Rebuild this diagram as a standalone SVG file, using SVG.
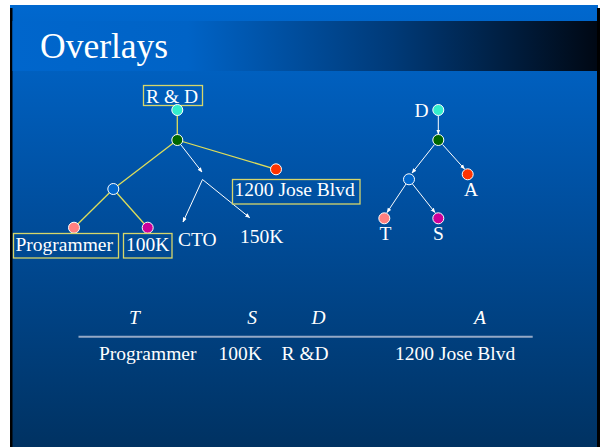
<svg xmlns="http://www.w3.org/2000/svg" width="602" height="447" viewBox="0 0 602 447">
  <defs>
    <linearGradient id="bg" x1="0" y1="0" x2="0" y2="1">
      <stop offset="0" stop-color="#0068cf"/>
      <stop offset="0.45" stop-color="#004f9f"/>
      <stop offset="1" stop-color="#003262"/>
    </linearGradient>
    <linearGradient id="band" x1="0" y1="0" x2="1" y2="0">
      <stop offset="0" stop-color="#0066cc"/>
      <stop offset="0.3" stop-color="#0063c6"/>
      <stop offset="0.65" stop-color="#003a78"/>
      <stop offset="1" stop-color="#000814"/>
    </linearGradient>
    <marker id="arr" viewBox="0 0 10 10" refX="9" refY="5" markerWidth="5" markerHeight="5" orient="auto" markerUnits="userSpaceOnUse">
      <path d="M0,1 L10,5 L0,9 Z" fill="#ffffff"/>
    </marker>
  </defs>
  <style>
    text { font-family: "Liberation Serif", "Times New Roman", serif; fill: #ffffff; font-size: 19.5px; }
    .title { font-size: 35.5px; }
    .hdr { font-style: italic; text-anchor: middle; }
    .tree { stroke: #dede5a; stroke-width: 1.3; fill: none; }
    .arrow { stroke: #ffffff; stroke-width: 1; fill: none; marker-end: url(#arr); }
    .box { stroke: #d6d66a; stroke-width: 1.3; fill: none; }
    .dot { stroke: #ffffff; stroke-width: 1; }
    .cyan { fill: #33eecc; }
    .green { fill: #006600; }
    .open { fill: #0066cc; }
    .red { fill: #ff3300; }
    .pink { fill: #ff8080; }
    .mag { fill: #cc0099; }
  </style>

  <!-- slide background -->
  <rect x="0" y="0" width="602" height="447" fill="#ffffff"/>
  <rect x="10" y="5" width="588" height="442" fill="url(#bg)"/>
  <rect x="10" y="8" width="2.5" height="439" fill="#000000"/>
  <rect x="597" y="8" width="3" height="439" fill="#000000"/>
  <rect x="12.5" y="21" width="584.5" height="50" fill="url(#band)"/>
  <text class="title" x="40" y="58">Overlays</text>

  <!-- connectors -->
  <g id="connectors">
    <line class="tree" x1="177.3" y1="110" x2="177.3" y2="140"/>
    <line class="tree" x1="177.3" y1="140" x2="113.3" y2="189"/>
    <line class="tree" x1="177.3" y1="140" x2="276" y2="169.3"/>
    <line class="tree" x1="113.3" y1="189" x2="74" y2="227.7"/>
    <line class="tree" x1="113.3" y1="189" x2="147.7" y2="227.7"/>
    <line class="arrow" x1="181" y1="145" x2="202" y2="172"/>
    <line class="arrow" x1="202.5" y1="179.5" x2="183" y2="222"/>
    <line class="arrow" x1="202.5" y1="179.5" x2="249.7" y2="217.7"/>

    <line class="arrow" x1="438.3" y1="116" x2="438.3" y2="134"/>
    <line class="arrow" x1="434.5" y1="144.5" x2="412" y2="173"/>
    <line class="arrow" x1="442.5" y1="144.5" x2="464.5" y2="169"/>
    <line class="arrow" x1="406" y1="184" x2="387" y2="212.5"/>
    <line class="arrow" x1="412.5" y1="184" x2="435" y2="212.5"/>
  </g>

  <!-- left tree -->
  <g id="rd-label">
    <rect class="box" x="143.5" y="85.5" width="59" height="20"/>
    <text x="146" y="102.5">R &amp; D</text>
  </g>
  <g id="l-root"><circle class="dot cyan" cx="177.3" cy="110" r="5.5"/></g>
  <g id="l-mid"><circle class="dot green" cx="177.3" cy="140" r="5.5"/></g>
  <g id="l-inner"><circle class="dot open" cx="113.3" cy="189" r="5.5"/></g>
  <g id="l-addr"><circle class="dot red" cx="276" cy="169.3" r="5.5"/></g>
  <g id="l-title"><circle class="dot pink" cx="74" cy="227.7" r="5.5"/></g>
  <g id="l-salary"><circle class="dot mag" cx="147.7" cy="227.7" r="5.5"/></g>
  <g id="addr-label">
    <rect class="box" x="232.5" y="179.5" width="127.5" height="24.5"/>
    <text x="234.5" y="196">1200 Jose Blvd</text>
  </g>
  <g id="prog-label">
    <rect class="box" x="13.5" y="233.5" width="105" height="24.5"/>
    <text x="15.5" y="250.5">Programmer</text>
  </g>
  <g id="salary-label">
    <rect class="box" x="123.5" y="233.5" width="48.5" height="24.5"/>
    <text x="126" y="250.5">100K</text>
  </g>
  <g id="cto"><text x="178" y="246">CTO</text></g>
  <g id="k150"><text x="240" y="243">150K</text></g>

  <!-- right tree -->
  <g id="r-d">
    <circle class="dot cyan" cx="438.3" cy="110" r="5.5"/>
    <text x="414.5" y="117">D</text>
  </g>
  <g id="r-mid"><circle class="dot green" cx="438.3" cy="140" r="5.5"/></g>
  <g id="r-inner"><circle class="dot open" cx="409" cy="179.3" r="5.5"/></g>
  <g id="r-a">
    <circle class="dot red" cx="467.7" cy="174.3" r="5.5"/>
    <text x="471" y="196" text-anchor="middle">A</text>
  </g>
  <g id="r-t">
    <circle class="dot pink" cx="384.3" cy="218.3" r="5.5"/>
    <text x="385.5" y="240" text-anchor="middle">T</text>
  </g>
  <g id="r-s">
    <circle class="dot mag" cx="438.3" cy="218.3" r="5.5"/>
    <text x="438.5" y="240" text-anchor="middle">S</text>
  </g>

  <!-- tuple table -->
  <g id="table">
    <text class="hdr" x="134.5" y="324">T</text>
    <text class="hdr" x="252" y="324">S</text>
    <text class="hdr" x="318.5" y="324">D</text>
    <text class="hdr" x="480" y="324">A</text>
    <line x1="78.5" y1="336.7" x2="532.7" y2="336.7" stroke="#94a9c6" stroke-width="2"/>
    <text x="99" y="360">Programmer</text>
    <text x="218.5" y="360">100K</text>
    <text x="281.5" y="360">R &amp;D</text>
    <text x="395" y="360">1200 Jose Blvd</text>
  </g>
</svg>
